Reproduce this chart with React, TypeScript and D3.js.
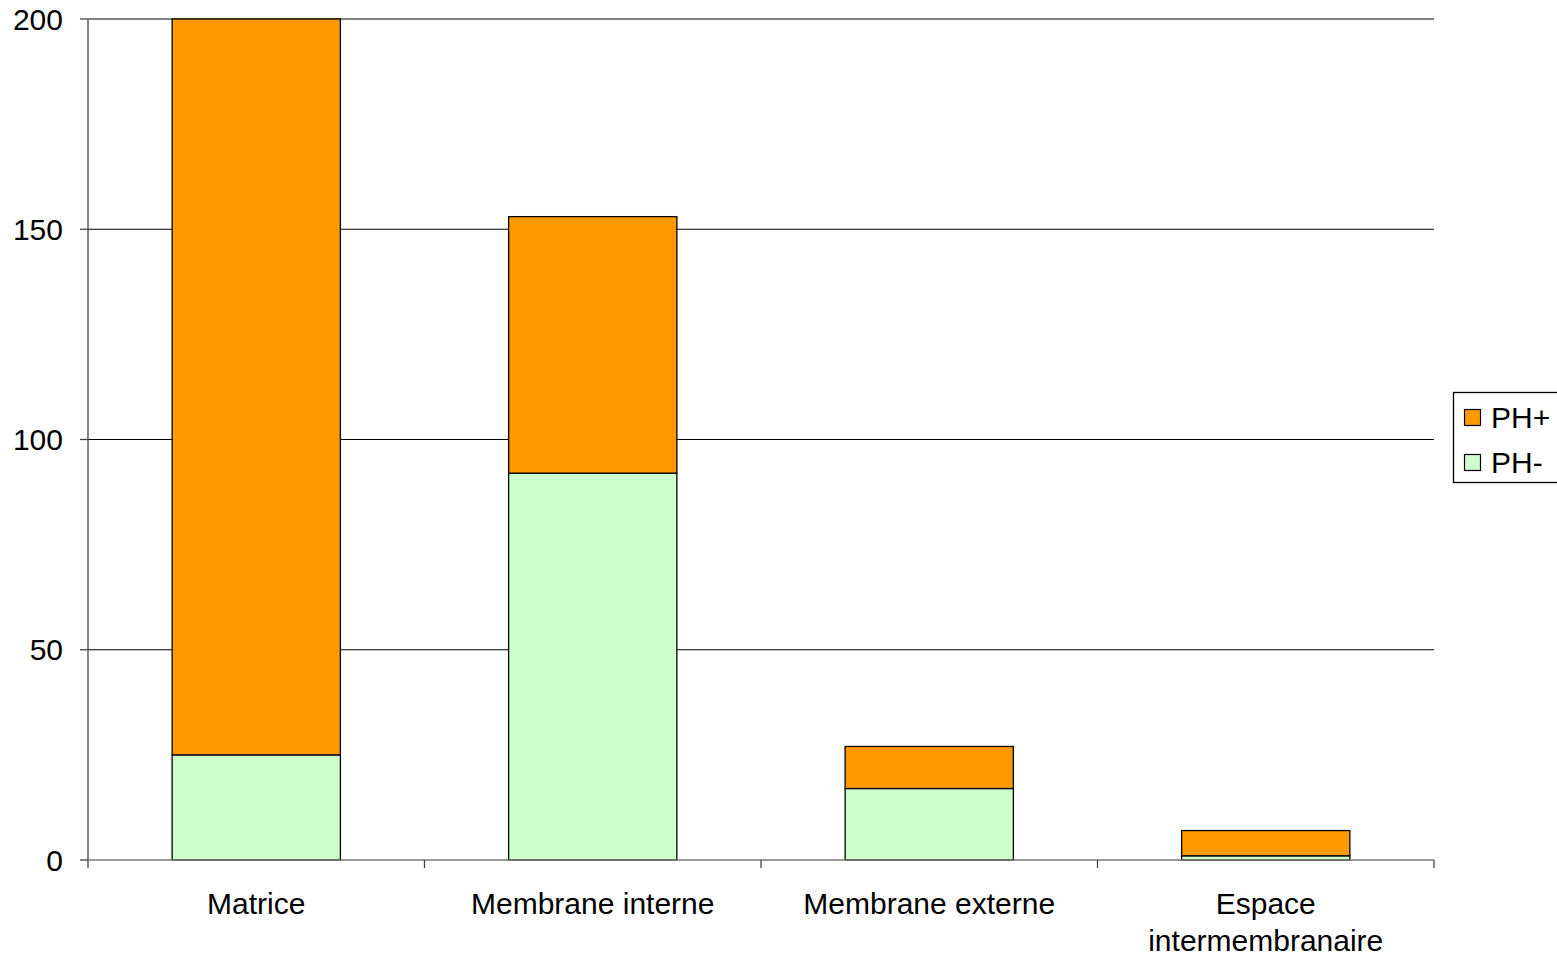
import React from "react";
import * as d3 from "d3";

const categories = ["Matrice", "Membrane interne", "Membrane externe", "Espace intermembranaire"];
const categoryLines = [["Matrice"], ["Membrane interne"], ["Membrane externe"], ["Espace", "intermembranaire"]];
const phMinus = [25, 92, 17, 1];
const phPlus = [175, 61, 10, 6];
const yTicks = [0, 50, 100, 150, 200];
const seriesNames = ["PH+", "PH-"];
const seriesColors = ["#FF9900", "#CCFFCC"];

const W = 1557;
const H = 956;
const left = 88;
const right = 1434;
const top = 19;
const bottom = 860;
const font = "'Liberation Sans', Arial, sans-serif";
const fs = 30;

export default function App() {
  const x = d3.scaleBand<string>().domain(categories).range([left, right]).paddingInner(0.5).paddingOuter(0.25);
  const y = d3.scaleLinear().domain([0, 200]).range([bottom, top]);
  const bounds = d3.range(categories.length + 1).map((i) => left + i * ((right - left) / categories.length));

  const stacked = categories.map((c, i) => ({
    c,
    segs: [
      { y0: 0, y1: phMinus[i], color: seriesColors[1] },
      { y0: phMinus[i], y1: phMinus[i] + phPlus[i], color: seriesColors[0] },
    ],
  }));

  return (
    <svg width={W} height={H} style={{ position: "absolute", left: 0, top: 0, background: "#fff" }}>
      {/* gridlines */}
      {yTicks.filter((t) => t > 0).map((t) => (
        <line key={t} x1={left} x2={right} y1={y(t)} y2={y(t)} stroke="#000" strokeWidth={1} />
      ))}
      {/* stacked bars */}
      {stacked.map((b) => (
        <g key={b.c}>
          {b.segs.map((s, j) => (
            <rect
              key={j}
              x={x(b.c)!}
              y={y(s.y1)}
              width={x.bandwidth()}
              height={y(s.y0) - y(s.y1)}
              fill={s.color}
              stroke="#000"
              strokeWidth={1.3}
            />
          ))}
        </g>
      ))}
      {/* y axis */}
      <line x1={left} x2={left} y1={top} y2={bottom} stroke="#444" strokeWidth={1.3} />
      {yTicks.map((t) => (
        <g key={t}>
          <line x1={left - 8} x2={left} y1={y(t)} y2={y(t)} stroke="#444" strokeWidth={1.3} />
          <text x={63} y={y(t)} dy="0.35em" textAnchor="end" fontFamily={font} fontSize={fs} fill="#000">
            {t}
          </text>
        </g>
      ))}
      {/* x axis */}
      <line x1={left} x2={right} y1={bottom} y2={bottom} stroke="#777" strokeWidth={1.5} />
      {bounds.map((bx, i) => (
        <line key={i} x1={bx} x2={bx} y1={bottom} y2={bottom + 8} stroke="#444" strokeWidth={1.3} />
      ))}
      {categories.map((c, i) => (
        <text key={c} textAnchor="middle" fontFamily={font} fontSize={fs} fill="#000">
          {categoryLines[i].map((ln, k) => (
            <tspan key={k} x={x(c)! + x.bandwidth() / 2} y={914 + k * 37}>
              {ln}
            </tspan>
          ))}
        </text>
      ))}
      {/* legend */}
      <rect x={1453.5} y={392.5} width={110} height={90} fill="#fff" stroke="#000" strokeWidth={1.3} />
      {seriesNames.map((n, i) => (
        <g key={n}>
          <rect x={1464.5} y={409.5 + i * 45} width={16} height={16} fill={seriesColors[i]} stroke="#000" strokeWidth={1.2} />
          <text x={1491} y={417.5 + i * 45} dy="0.35em" fontFamily={font} fontSize={fs} fill="#000">
            {n}
          </text>
        </g>
      ))}
    </svg>
  );
}
